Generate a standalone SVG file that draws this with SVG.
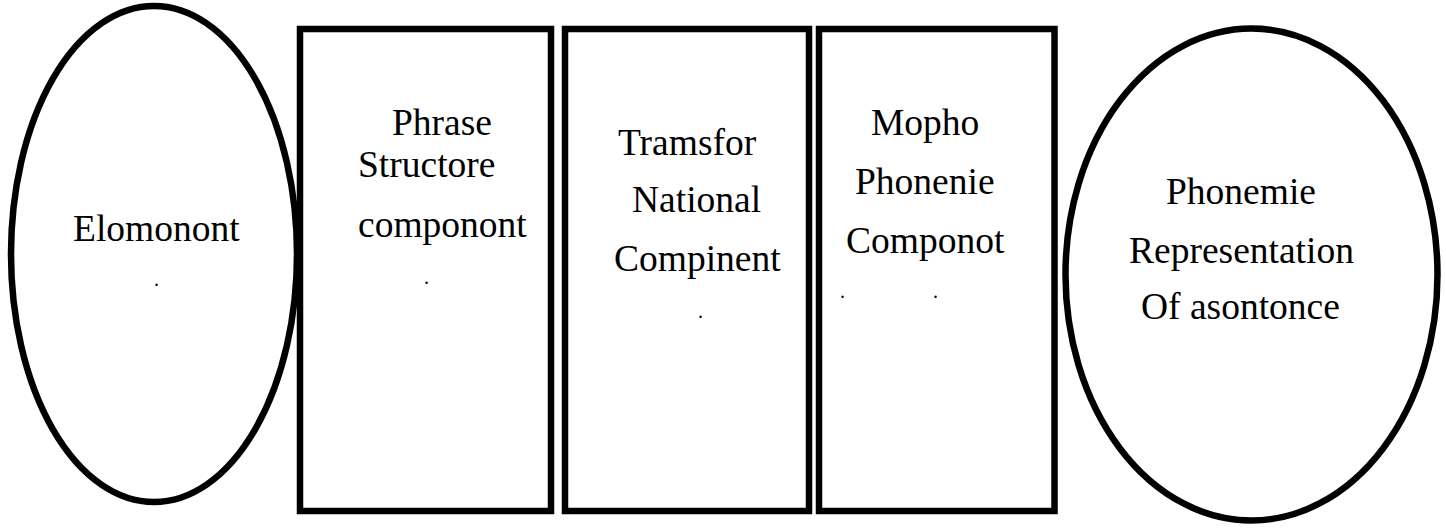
<svg xmlns="http://www.w3.org/2000/svg" width="1446" height="529" viewBox="0 0 1446 529">
<style>
.shape{fill:none;stroke:#000;stroke-width:6.5}
.t{font-family:"Liberation Serif","Times New Roman",serif;font-size:37.5px;fill:#000}
.d{font-family:"Liberation Serif","Times New Roman",serif;font-size:20px;fill:#000}
</style>
<rect width="1446" height="529" fill="#fff"/>
<g id="connectors"></g>
<g id="n1">
<ellipse class="shape" cx="154" cy="254" rx="143" ry="248"/>
<text class="t" x="73" y="241">Elomonont</text>
<text class="d" x="154" y="286">.</text>
</g>
<g id="n2">
<rect class="shape" x="300" y="29" width="251" height="482"/>
<text class="t" x="392" y="135">Phrase</text>
<text class="t" x="358" y="177">Structore</text>
<text class="t" x="358" y="237">componont</text>
<text class="d" x="424" y="284">.</text>
</g>
<g id="n3">
<rect class="shape" x="565" y="29" width="244" height="482"/>
<text class="t" x="618" y="155">Tramsfor</text>
<text class="t" x="632" y="212">National</text>
<text class="t" x="614" y="271">Compinent</text>
<text class="d" x="698" y="318">.</text>
</g>
<g id="n4">
<rect class="shape" x="819" y="29" width="235.5" height="482"/>
<text class="t" x="871" y="135">Mopho</text>
<text class="t" x="855" y="194">Phonenie</text>
<text class="t" x="846" y="253">Componot</text>
<text class="d" x="840" y="298">.</text>
<text class="d" x="933" y="298">.</text>
</g>
<g id="n5">
<ellipse class="shape" cx="1251.5" cy="274.5" rx="186" ry="246"/>
<text class="t" x="1166" y="204">Phonemie</text>
<text class="t" x="1129" y="263">Representation</text>
<text class="t" x="1141" y="319">Of asontonce</text>
</g>
</svg>
